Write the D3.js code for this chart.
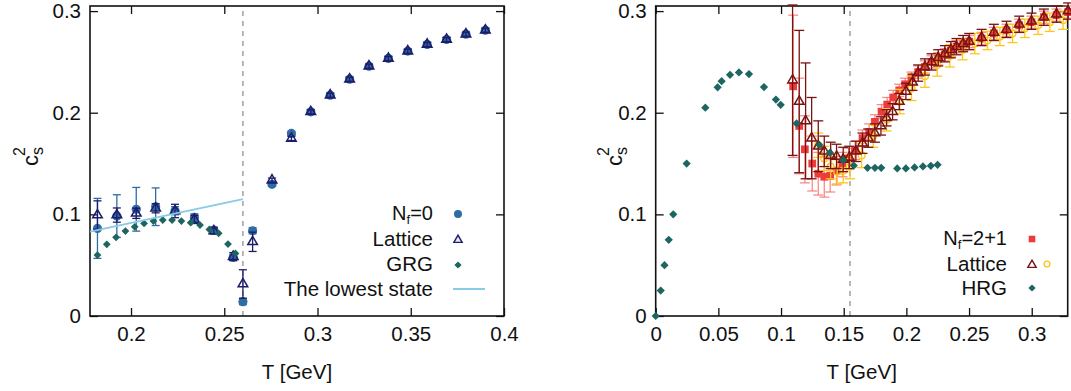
<!DOCTYPE html>
<html>
<head>
<meta charset="utf-8">
<script src="https://cdn.jsdelivr.net/npm/d3@7"></script>
<style>
  html, body { margin: 0; padding: 0; background: #fff; }
  svg text { font-family: "Liberation Sans", Arial, Helvetica, sans-serif; fill: #111; }
</style>
</head>
<body>
<svg id="chart" width="1071" height="391"></svg>
<script>
// ---------- Pure gauge theory (N_f = 0) ----------
const nf0T    = [0.1820,0.1924,0.2028,0.2132,0.2236,0.2340,0.2444,0.2548,0.2600,0.2652,0.2756,0.2860,0.2964,0.3068,0.3172,0.3276,0.3380,0.3484,0.3588,0.3692,0.3796,0.3900];
const nf0Cs2  = [0.0862,0.0983,0.1050,0.1075,0.1036,0.0970,0.0846,0.0577,0.0141,0.0839,0.1295,0.1796,0.2009,0.2173,0.2330,0.2458,0.2534,0.2606,0.2672,0.2720,0.2773,0.2812];
const nf0Err  = [0.0295,0.0210,0.0215,0.0185,0.0040,0.0035,0.0030,0.0030,0.0030,0.0030,0.0020,0.0020,0.0020,0.0020,0.0020,0.0020,0.0020,0.0020,0.0020,0.0020,0.0020,0.0020];
const lat0Cs2 = [0.0993,0.0993,0.1010,0.1060,0.1033,0.0950,0.0836,0.0584,0.0315,0.0730,0.1337,0.1747,0.2009,0.2173,0.2330,0.2458,0.2534,0.2606,0.2672,0.2720,0.2773,0.2812];
const lat0Err = [0.0140,0.0070,0.0050,0.0045,0.0066,0.0040,0.0030,0.0040,0.0140,0.0095,0.0020,0.0020,0.0020,0.0020,0.0020,0.0020,0.0020,0.0020,0.0020,0.0020,0.0020,0.0020];
const grgT    = [0.182,0.187,0.192,0.197,0.202,0.207,0.212,0.217,0.222,0.227,0.232,0.237,0.242,0.247,0.252,0.256];
const grgCs2  = [0.0600,0.0705,0.0774,0.0836,0.0878,0.0911,0.0934,0.0944,0.0944,0.0934,0.0918,0.0895,0.0852,0.0813,0.0708,0.0616];
const lowestT   = [0.178, 0.260];
const lowestCs2 = [0.083, 0.115];
const tc0 = 0.26;

// ---------- QCD with N_f = 2+1 ----------
const sqT   = [0.1097,0.1145,0.1190,0.1249,0.1297,0.1345,0.1392,0.1443,0.1490,0.1540,0.1590,0.1650,0.1703,0.1749,0.1802,0.1847,0.1895,0.1943,0.1990,0.2041,0.2094,0.2148,0.2201,0.2254,0.2307,0.2355,0.2400,0.2453,0.2501,0.2600,0.2698,0.2799,0.2900,0.2998,0.3097,0.3198,0.3290];
const sqCs2 = [0.226,0.187,0.164,0.150,0.140,0.137,0.138,0.143,0.149,0.155,0.163,0.175,0.181,0.191,0.201,0.208,0.215,0.222,0.228,0.234,0.240,0.245,0.250,0.253,0.257,0.261,0.265,0.267,0.270,0.273,0.278,0.281,0.286,0.289,0.294,0.296,0.299];
const sqErr = [0.070,0.047,0.033,0.027,0.021,0.020,0.016,0.014,0.012,0.010,0.009,0.008,0.008,0.007,0.007,0.007,0.007,0.006,0.006,0.006,0.006,0.006,0.006,0.006,0.006,0.006,0.006,0.006,0.006,0.006,0.006,0.006,0.006,0.006,0.006,0.006,0.006];
const trT   = [0.1092,0.1145,0.1196,0.1244,0.1297,0.1345,0.1396,0.1443,0.1496,0.1544,0.1597,0.1650,0.1696,0.1749,0.1797,0.1842,0.1890,0.1943,0.1996,0.2049,0.2094,0.2148,0.2201,0.2254,0.2307,0.2355,0.2400,0.2453,0.2501,0.2600,0.2698,0.2799,0.2900,0.2998,0.3097,0.3198,0.3290];
const trCs2 = [0.232,0.211,0.192,0.175,0.167,0.162,0.158,0.157,0.154,0.156,0.162,0.170,0.175,0.180,0.187,0.195,0.201,0.211,0.221,0.230,0.239,0.245,0.250,0.254,0.258,0.262,0.265,0.268,0.270,0.274,0.279,0.282,0.287,0.290,0.294,0.297,0.300];
const trErr = [0.074,0.070,0.057,0.040,0.025,0.015,0.013,0.012,0.012,0.011,0.010,0.010,0.009,0.009,0.009,0.008,0.008,0.008,0.008,0.008,0.008,0.008,0.008,0.008,0.008,0.008,0.008,0.008,0.008,0.008,0.008,0.008,0.008,0.008,0.008,0.008,0.008];
const ciT   = [0.1297,0.1345,0.1396,0.1448,0.1497,0.1550,0.1643,0.1735,0.1842,0.1948,0.2041,0.2148,0.2246,0.2347,0.2448,0.2546,0.2647,0.2746,0.2847,0.2945,0.3051,0.3144,0.3250];
const ciCs2 = [0.168,0.155,0.147,0.142,0.143,0.147,0.158,0.177,0.193,0.211,0.224,0.236,0.247,0.256,0.262,0.268,0.271,0.275,0.278,0.283,0.286,0.289,0.291];
const ciErr = [0.012,0.012,0.012,0.012,0.012,0.012,0.012,0.011,0.011,0.012,0.012,0.011,0.011,0.011,0.010,0.010,0.009,0.009,0.009,0.009,0.009,0.009,0.009];
const hrgT   = [0.0000,0.0040,0.0070,0.0104,0.0140,0.0247,0.0396,0.0494,0.0526,0.0593,0.0664,0.0744,0.0864,0.0959,0.0997,0.1124,0.1305,0.1390,0.1496,0.1580,0.1690,0.1749,0.1799,0.1927,0.1996,0.2065,0.2132,0.2195,0.2249];
const hrgCs2 = [0.000,0.025,0.050,0.075,0.100,0.150,0.205,0.225,0.231,0.2373,0.2396,0.238,0.2252,0.213,0.2078,0.1895,0.1684,0.1606,0.1534,0.148,0.1458,0.1458,0.1458,0.1452,0.1452,0.1462,0.1472,0.1478,0.1488];
const tc21 = 0.155;

const xTicksLeft  = [0.2, 0.25, 0.3, 0.35, 0.4];
const xTicksRight = [0, 0.05, 0.1, 0.15, 0.2, 0.25, 0.3];
const yTicks      = [0, 0.1, 0.2, 0.3];

const svg = d3.select("#chart");
const FS = 20.5;

function panel(opts) {
  const x = d3.scaleLinear().domain(opts.xDomain).range(opts.xRange);
  const y = d3.scaleLinear().domain([0, 0.305]).range([316, 6]);
  const g = svg.append("g");
  const fmt = d => d === 0 ? "0" : String(+d.toFixed(2));

  const ax = (gen, tr, labels) => {
    const a = g.append("g").attr("transform", tr).call(gen);
    a.select(".domain").remove();
    a.selectAll(".tick line").attr("stroke", "#111").attr("stroke-width", 1.3);
    a.selectAll("text").attr("font-size", FS).attr("fill", "#111")
      .attr("font-family", "Liberation Sans, Arial, sans-serif");
    if (!labels) a.selectAll("text").remove();
  };
  ax(d3.axisBottom(x).tickValues(opts.xTicks).tickSize(-8).tickPadding(10).tickFormat(fmt), `translate(0,${y(0)})`, true);
  ax(d3.axisTop(x).tickValues(opts.xTicks).tickSize(-8), `translate(0,${y.range()[1]})`, false);
  ax(d3.axisLeft(y).tickValues(yTicks).tickSize(-8).tickPadding(9).tickFormat(fmt), `translate(${x.range()[0]},0)`, true);
  ax(d3.axisRight(y).tickValues(yTicks).tickSize(-8), `translate(${x.range()[1]},0)`, false);

  // critical temperature
  g.append("line")
    .attr("x1", x(opts.tc)).attr("x2", x(opts.tc))
    .attr("y1", y(0)).attr("y2", y.range()[1])
    .attr("stroke", "#999").attr("stroke-width", 1.4).attr("stroke-dasharray", "5,5");

  // frame
  g.append("rect")
    .attr("x", x.range()[0]).attr("y", y.range()[1])
    .attr("width", x.range()[1] - x.range()[0]).attr("height", y(0) - y.range()[1])
    .attr("fill", "none").attr("stroke", "#111").attr("stroke-width", 1.6);

  // axis titles
  g.append("text").attr("x", (x.range()[0] + x.range()[1]) / 2).attr("y", 379)
    .attr("text-anchor", "middle").attr("font-size", FS).text("T [GeV]");
  const yl = g.append("text")
    .attr("transform", `translate(${opts.yLabelX},166) rotate(-90)`)
    .attr("text-anchor", "start").attr("font-size", 22);
  yl.append("tspan").text("c");
  yl.append("tspan").attr("font-size", 16).attr("dy", 5).text("s");
  yl.append("tspan").attr("font-size", 16).attr("dx", -9).attr("dy", -18).text("2");

  return { g, x, y };
}

function errorBars(p, T, V, E, color, width, cap) {
  const data = T.map((t, i) => ({ t, v: V[i], e: E[i] }));
  const eg = p.g.append("g").attr("stroke", color).attr("stroke-width", width).attr("fill", "none");
  data.forEach(d => {
    const cx = p.x(d.t), y1 = p.y(d.v + d.e), y2 = p.y(d.v - d.e);
    eg.append("line").attr("x1", cx).attr("x2", cx).attr("y1", y1).attr("y2", y2);
    eg.append("line").attr("x1", cx - cap).attr("x2", cx + cap).attr("y1", y1).attr("y2", y1);
    eg.append("line").attr("x1", cx - cap).attr("x2", cx + cap).attr("y1", y2).attr("y2", y2);
  });
}

function markers(p, T, V, type, size, fill, stroke, sw, rot) {
  const sym = d3.symbol().type(type).size(size);
  p.g.append("g").selectAll("path").data(T.map((t, i) => [t, V[i]])).join("path")
    .attr("d", sym)
    .attr("transform", d => `translate(${p.x(d[0])},${p.y(d[1])})` + (rot ? ` rotate(${rot})` : ""))
    .attr("fill", fill).attr("stroke", stroke).attr("stroke-width", sw);
}

function legendSymbol(g, cx, cy, type, size, fill, stroke, sw, rot) {
  g.append("path").attr("d", d3.symbol().type(type).size(size)())
    .attr("transform", `translate(${cx},${cy})` + (rot ? ` rotate(${rot})` : ""))
    .attr("fill", fill).attr("stroke", stroke).attr("stroke-width", sw);
}

// label pieces: [text, isSubscript]
function legendLabel(g, xr, cy, parts, fs) {
  const t = g.append("text").attr("x", xr).attr("y", cy + 7).attr("text-anchor", "end").attr("font-size", fs || FS);
  let lowered = false;
  parts.forEach(([s, sub]) => {
    const span = t.append("tspan").text(s);
    if (sub && !lowered) { span.attr("font-size", 13).attr("dy", 4); lowered = true; }
    else if (!sub && lowered) { span.attr("dy", -4); lowered = false; }
  });
}

// ---------- left panel ----------
const NF0 = "#2f6ca3", LAT0 = "#1c1c6b", GRG = "#1d6560", LOW = "#88cbe8";
const L = panel({ xDomain: [0.178, 0.4], xRange: [90, 504], xTicks: xTicksLeft, tc: tc0, yLabelX: 38 });

errorBars(L, nf0T, nf0Cs2, nf0Err, NF0, 1.3, 4);
markers(L, nf0T, nf0Cs2, d3.symbolCircle, 66, NF0, "none", 0);
errorBars(L, nf0T, lat0Cs2, lat0Err, LAT0, 1.3, 4);
markers(L, nf0T, lat0Cs2, d3.symbolTriangle, 40, "none", LAT0, 1.5);
markers(L, grgT, grgCs2, d3.symbolSquare, 30, GRG, "none", 0, 45);
L.g.append("path")
  .attr("d", d3.line().x(d => L.x(d)).y((d, i) => L.y(lowestCs2[i]))(lowestT))
  .attr("stroke", LOW).attr("stroke-width", 2).attr("fill", "none");

const lg = L.g.append("g");
legendLabel(lg, 433, 213, [["N"], ["f", true], ["=0"]], 20);
legendSymbol(lg, 458, 214, d3.symbolCircle, 50, NF0, "none", 0);
legendLabel(lg, 433, 239, [["Lattice"]]);
legendSymbol(lg, 458, 240, d3.symbolTriangle, 30, "#e6e6f5", LAT0, 1.4);
legendLabel(lg, 433, 264, [["GRG"]]);
legendSymbol(lg, 458, 265, d3.symbolSquare, 26, GRG, "none", 0, 45);
legendLabel(lg, 433, 289, [["The lowest state"]]);
lg.append("line").attr("x1", 453).attr("x2", 485).attr("y1", 289).attr("y2", 289)
  .attr("stroke", LOW).attr("stroke-width", 2);

// ---------- right panel ----------
const SQ = "#ee3b3b", SQERR = "rgba(245,100,100,0.75)", TR = "#7a1212", CI = "#ffc61a";
const R = panel({ xDomain: [0, 0.3287], xRange: [655.7, 1067.7], xTicks: xTicksRight, tc: tc21, yLabelX: 622 });

errorBars(R, sqT, sqCs2, sqErr, SQERR, 1.3, 5);
markers(R, sqT, sqCs2, d3.symbolSquare, 60, SQ, "none", 0);
errorBars(R, ciT, ciCs2, ciErr, CI, 1.3, 5);
markers(R, ciT, ciCs2, d3.symbolCircle, 36, "none", CI, 1.4);
errorBars(R, trT, trCs2, trErr, TR, 1.3, 5);
markers(R, trT, trCs2, d3.symbolTriangle, 40, "none", TR, 1.5);
markers(R, hrgT, hrgCs2, d3.symbolSquare, 34, GRG, "none", 0, 45);

const rg = R.g.append("g");
legendLabel(rg, 1007, 238, [["N"], ["f", true], ["=2+1"]], 20);
legendSymbol(rg, 1032, 239, d3.symbolSquare, 44, SQ, "none", 0);
legendLabel(rg, 1007, 264, [["Lattice"]]);
legendSymbol(rg, 1032, 265, d3.symbolTriangle, 30, "#fff", TR, 1.4);
legendSymbol(rg, 1047, 264, d3.symbolCircle, 26, "#fff", CI, 1.4);
legendLabel(rg, 1007, 288, [["HRG"]]);
legendSymbol(rg, 1032, 288, d3.symbolSquare, 26, GRG, "none", 0, 45);
</script>
</body>
</html>
